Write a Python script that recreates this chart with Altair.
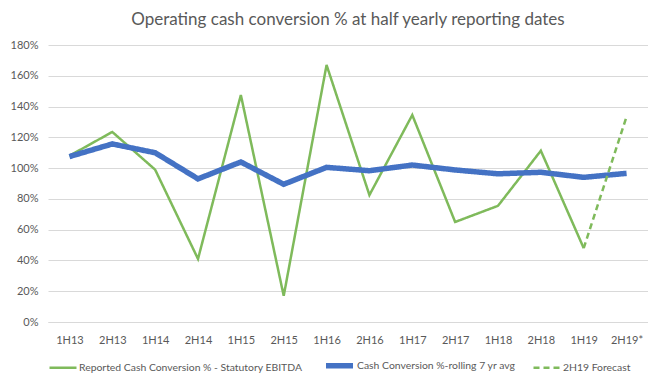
import altair as alt
import pandas as pd

periods = ["1H13", "2H13", "1H14", "2H14", "1H15", "2H15", "1H16", "2H16",
           "1H17", "2H17", "1H18", "2H18", "1H19", "2H19*"]
reported = [108, 123.5, 99, 41, 147.5, 17, 167, 82.5, 134.5, 65, 75.5, 111.3, 48]
rolling = [107.5, 115.7, 110, 93, 104, 89.5, 100.5, 98.3, 102, 98.8, 96.3, 97.3, 94, 96.6]
forecast_periods = ["1H19", "2H19*"]
forecast = [48, 133.5]

S1 = "Reported Cash Conversion % - Statutory EBITDA"
S2 = "Cash Conversion %-rolling 7 yr avg"
S3 = "2H19 Forecast"

rows = []
for p, v in zip(periods[:len(reported)], reported):
    rows.append({"period": p, "value": v / 100, "series": S1})
for p, v in zip(periods, rolling):
    rows.append({"period": p, "value": v / 100, "series": S2})
for p, v in zip(forecast_periods, forecast):
    rows.append({"period": p, "value": v / 100, "series": S3})
df = pd.DataFrame(rows)

green = "#7fba5b"
blue = "#4472c4"
txt = "#595959"
font = "Lato"
dom = [S1, S2, S3]

chart = alt.Chart(df).mark_line().encode(
    x=alt.X("period:N", sort=periods, scale=alt.Scale(type="point", padding=0.5),
            axis=alt.Axis(title=None, labelAngle=0, ticks=False, domainColor="#d9d9d9",
                          labelColor=txt, labelFont=font, labelFontSize=11, labelPadding=12,
                          grid=False)),
    y=alt.Y("value:Q", scale=alt.Scale(domain=[0, 1.8]),
            axis=alt.Axis(title=None, format=".0%", values=[i / 10 for i in range(0, 19, 2)],
                          ticks=False, domain=False, gridColor="#d9d9d9", labelColor=txt,
                          labelFont=font, labelFontSize=11, labelPadding=10)),
    color=alt.Color("series:N", sort=dom,
                    scale=alt.Scale(domain=dom, range=[green, blue, green]),
                    legend=alt.Legend(title=None, orient="bottom", direction="horizontal",
                                      symbolType="stroke", symbolSize=729, labelLimit=400,
                                      labelFont=font, labelFontSize=10.4, labelColor=txt,
                                      columnPadding=12, labelOffset=1, offset=4)),
    strokeWidth=alt.StrokeWidth("series:N", sort=dom,
                                scale=alt.Scale(type="ordinal", domain=dom, range=[2.5, 5.5, 2.5]),
                                legend=alt.Legend(title=None, orient="bottom")),
    strokeDash=alt.StrokeDash("series:N", sort=dom,
                              scale=alt.Scale(domain=dom, range=[[1, 0], [1, 0], [6, 4]]),
                              legend=alt.Legend(title=None, orient="bottom")),
).properties(
    width=600, height=277,
    title=alt.Title("Operating cash conversion % at half yearly reporting dates",
                    font=font, fontSize=17, fontWeight="normal", color=txt, offset=10),
    padding={"left": 2, "top": 3, "right": 0, "bottom": 0},
).configure_view(stroke=None)

chart.save("out.html", embed_options={"renderer": "svg", "actions": False})
